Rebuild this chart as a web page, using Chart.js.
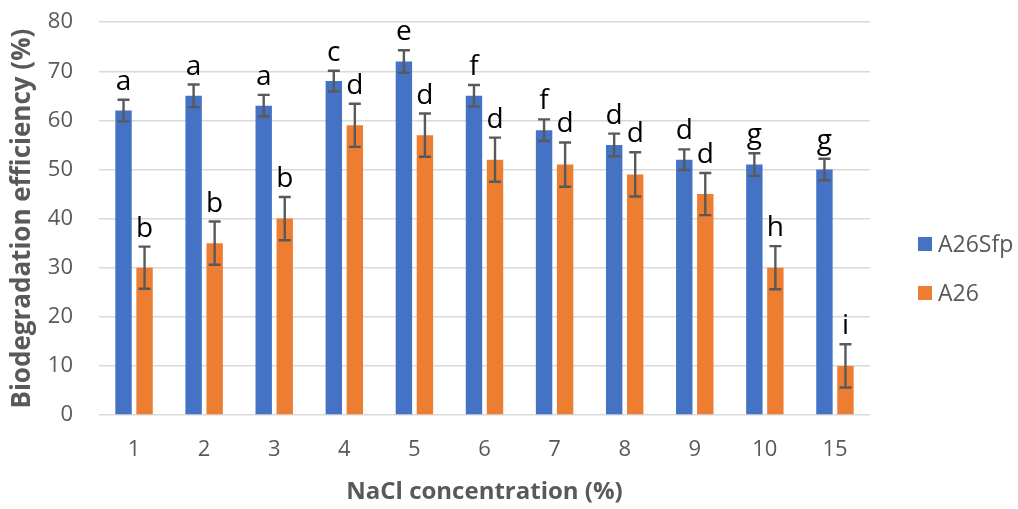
<!DOCTYPE html>
<html>
<head>
<meta charset="utf-8">
<script src="https://cdn.jsdelivr.net/npm/chart.js@4"></script>
<style>
html,body{margin:0;padding:0;background:#fff;}
#wrap{width:1018px;height:509px;}
</style>
</head>
<body>
<div id="wrap"><canvas id="c" width="1018" height="509"></canvas></div>
<script>
const categories = ['1','2','3','4','5','6','7','8','9','10','15'];
const a26sfp = [62, 65, 63, 68, 72, 65, 58, 55, 52, 51, 50];
const a26 = [30, 35, 40, 59, 57, 52, 51, 49, 45, 30, 10];
const a26sfpErr = [2.2, 2.3, 2.2, 2.1, 2.3, 2.2, 2.2, 2.3, 2.1, 2.3, 2.2];
const a26Err = [4.3, 4.4, 4.4, 4.4, 4.4, 4.5, 4.5, 4.5, 4.3, 4.4, 4.4];
const a26sfpLetters = ['a','a','a','c','e','f','f','d','d','g','g'];
const a26Letters = ['b','b','b','d','d','d','d','d','d','h','i'];
const yTicks = [0,10,20,30,40,50,60,70,80];

const FONT = "'Open Sans', sans-serif";
const GREY = '#595959';

const errorBarPlugin = {
  id: 'errbars',
  afterDatasetsDraw(chart) {
    const ctx = chart.ctx;
    const y = chart.scales.y;
    chart.data.datasets.forEach((ds, di) => {
      const meta = chart.getDatasetMeta(di);
      meta.data.forEach((bar, i) => {
        const v = ds.data[i], e = ds.errors[i];
        const yt = y.getPixelForValue(v + e), yb = y.getPixelForValue(v - e);
        ctx.save();
        ctx.strokeStyle = GREY;
        ctx.lineWidth = 2.4;
        ctx.beginPath();
        ctx.moveTo(bar.x, yt); ctx.lineTo(bar.x, yb);
        ctx.moveTo(bar.x - 6, yt); ctx.lineTo(bar.x + 6, yt);
        ctx.moveTo(bar.x - 6, yb); ctx.lineTo(bar.x + 6, yb);
        ctx.stroke();
        ctx.fillStyle = '#000';
        ctx.font = "28px " + FONT;
        ctx.textAlign = 'center';
        ctx.textBaseline = 'alphabetic';
        ctx.fillText(ds.letters[i], bar.x, yt - 10);
        ctx.restore();
      });
    });
  }
};

const legendPlugin = {
  id: 'customLegend',
  afterDraw(chart) {
    const ctx = chart.ctx;
    const ys = [244, 293];
    chart.data.datasets.forEach((ds, di) => {
      ctx.save();
      ctx.fillStyle = ds.backgroundColor;
      ctx.fillRect(918, ys[di] - 7, 14, 14);
      ctx.fillStyle = GREY;
      ctx.font = "23px " + FONT;
      ctx.textBaseline = 'middle';
      ctx.textAlign = 'left';
      ctx.fillText(ds.label, 938, ys[di] + 1);
      ctx.restore();
    });
  }
};

new Chart(document.getElementById('c'), {
  type: 'bar',
  data: {
    labels: categories,
    datasets: [
      {label: 'A26Sfp', data: a26sfp, errors: a26sfpErr, letters: a26sfpLetters, backgroundColor: '#4472C4', categoryPercentage: 0.6, barPercentage: 0.78},
      {label: 'A26', data: a26, errors: a26Err, letters: a26Letters, backgroundColor: '#ED7D31', categoryPercentage: 0.6, barPercentage: 0.78}
    ]
  },
  options: {
    responsive: false,
    animation: false,
    devicePixelRatio: 1,
    layout: {padding: {top: 7, right: 148, left: 0, bottom: 0}},
    plugins: {legend: {display: false}, tooltip: {enabled: false}},
    scales: {
      x: {
        grid: {display: false, drawTicks: false},
        border: {display: false},
        ticks: {color: GREY, font: {family: FONT, size: 22}, padding: 22},
        title: {display: true, text: 'NaCl concentration (%)', color: GREY, font: {family: FONT, size: 24, weight: 'bold'}, padding: {top: 10, bottom: 2}},
        afterFit(s) { s.height = 94; }
      },
      y: {
        min: 0, max: 80,
        afterBuildTicks(s) { s.ticks = yTicks.map(v => ({value: v})); },
        grid: {color: '#d9d9d9', lineWidth: 1.5, drawTicks: true, tickLength: 17, tickColor: 'rgba(0,0,0,0)'},
        border: {display: false},
        ticks: {color: GREY, font: {family: FONT, size: 22}, padding: 9},
        title: {display: true, text: 'Biodegradation efficiency (%)', color: GREY, font: {family: FONT, size: 26, weight: 'bold'}, padding: {top: 7, bottom: 4}},
        afterFit(s) { s.width = 99; }
      }
    }
  },
  plugins: [errorBarPlugin, legendPlugin]
});
</script>
</body>
</html>
